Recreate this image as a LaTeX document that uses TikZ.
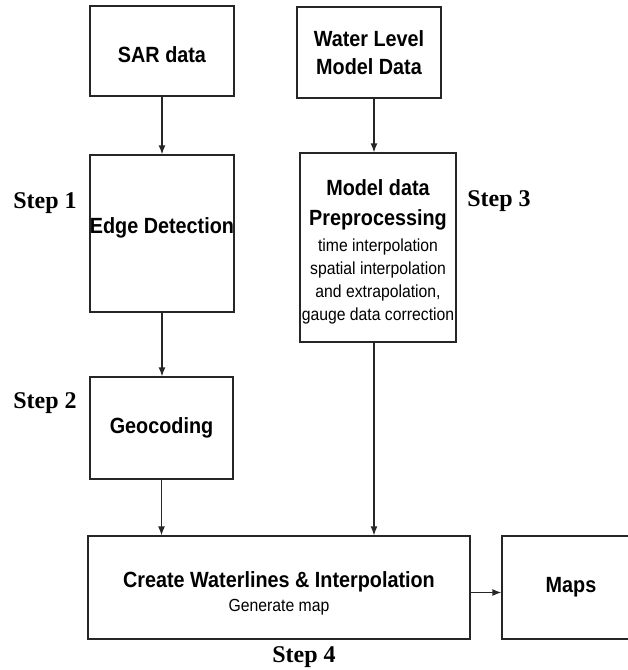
\documentclass[tikz,border=0pt]{standalone}
\usepackage{fontspec}
\usetikzlibrary{arrows.meta}
\newfontfamily\boxfont[FakeStretch=0.9]{Liberation Sans}
\newfontfamily\stepfont{Liberation Serif}
\newcommand\detail[1]{{\mdseries\fontsize{17.5}{22.5}\selectfont #1}}

\tikzset{
  box/.style={draw=black!85, line width=1.3pt, inner sep=0pt, align=center,
    font=\boxfont\bfseries\fontsize{22}{28}\selectfont},
  steplabel/.style={font=\stepfont\bfseries\fontsize{24}{28}\selectfont},
  flow/.style={draw=black!85, line width=1.3pt, -{Latex[length=9pt,width=7pt]}},
}

\begin{document}
\begin{tikzpicture}[x=1pt, y=-1pt]
    \useasboundingbox (0,0) rectangle (628,670);
    \begin{scope}
      \clip (0,0) rectangle (628,670);
      % left branch
      \node[box, minimum width=144pt, minimum height=90pt] (sar) at (162,51) {\mbox{}\\[-4pt]SAR data};
      \node[box, minimum width=144pt, minimum height=157pt] (edge) at (162,233.5) {Edge Detection\\[-12pt]\mbox{}};
      \node[box, minimum width=143pt, minimum height=102pt] (geo) at (161.5,428) {Geocoding};
      % right branch
      \node[box, minimum width=144pt, minimum height=91pt] (water) at (369,52.5) {Water Level\\Model Data};
      \node[box, minimum width=156pt, minimum height=189pt] (model) at (378,247.5)
        {\mbox{}\\[-4pt]Model data\\[2pt]Preprocessing\\[-2pt]\detail{time interpolation}\\[-5pt]\detail{spatial interpolation}\\[-5pt]\detail{and extrapolation,}\\[-5pt]\detail{gauge data correction}};
      % bottom row
      \node[box, minimum width=382pt, minimum height=103pt] (create) at (279,587.5)
        {\mbox{}\\Create Waterlines \& Interpolation\\[-4pt]\detail{Generate map}};
      \node[box, minimum width=138pt, minimum height=103pt] (maps) at (571,587.5) {Maps};
    \end{scope}

    \node[steplabel] (s1) at (45,203) {Step 1};
    \node[steplabel] (s2) at (45,403) {Step 2};
    \node[steplabel] (s3) at (499,201) {Step 3};
    \node[steplabel] (s4) at (304,657) {Step 4};

    \draw[flow] (sar.south) -- (sar.south |- edge.north);
    \draw[flow] (edge.south) -- (edge.south |- geo.north);
    \draw[flow] (geo.south) -- (geo.south |- create.north);
    \draw[flow] ([xshift=5pt]water.south) -- ([xshift=5pt]water.south |- model.north);
    \draw[flow] ([xshift=-4pt]model.south) -- ([xshift=-4pt]model.south |- create.north);
    \draw[flow] ([yshift=-5pt]create.east) -- ([yshift=-5pt]create.east -| maps.west);
\end{tikzpicture}
\end{document}
